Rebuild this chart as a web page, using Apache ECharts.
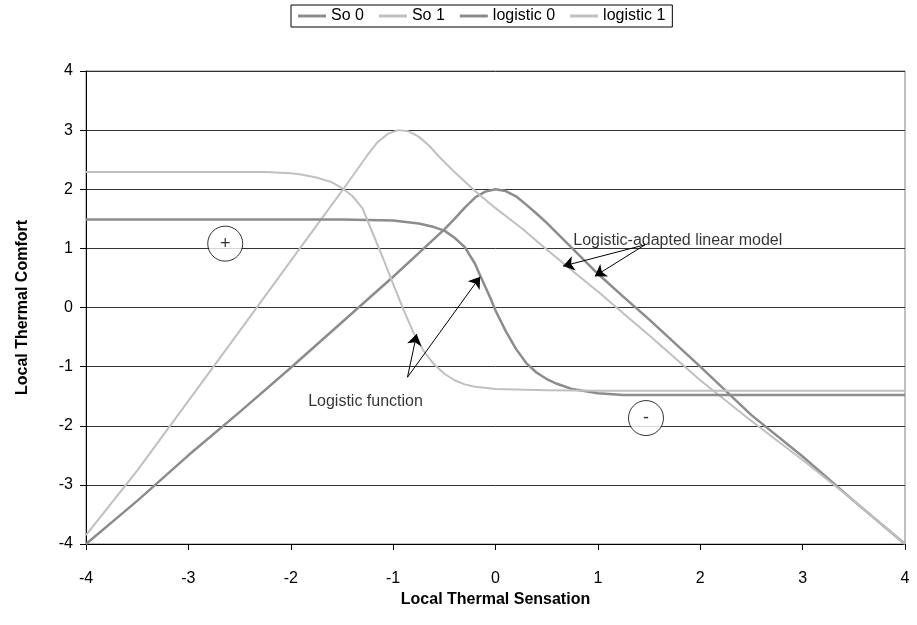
<!DOCTYPE html>
<html><head><meta charset="utf-8">
<script src="https://cdn.jsdelivr.net/npm/echarts@6/dist/echarts.min.js"></script>
<style>html,body{margin:0;padding:0;background:#fff}#c{width:917px;height:625px}</style>
</head><body><div id="c"></div>
<script>
// Data: [x, y] pairs
const so0 = [[-4,-4],[-3.5,-3.27],[-3,-2.5],[-2.5,-1.77],[-2,-1.02],[-1.5,-0.25],[-1,0.52],[-0.75,0.92],[-0.5,1.32],[-0.4,1.5],[-0.3,1.69],[-0.2,1.86],[-0.1,1.96],[0,2.0],[0.1,1.97],[0.2,1.88],[0.3,1.74],[0.4,1.59],[0.5,1.43],[0.75,1.0],[1,0.57],[1.25,0.18],[1.5,-0.2],[2,-1.0],[2.5,-1.82],[3,-2.52],[3.5,-3.27],[4,-4]];
const so1 = [[-4,-3.85],[-3.5,-2.76],[-3,-1.58],[-2.5,-0.4],[-2,0.79],[-1.75,1.38],[-1.5,1.97],[-1.25,2.58],[-1.15,2.8],[-1.05,2.94],[-0.95,3.0],[-0.85,2.98],[-0.75,2.89],[-0.65,2.74],[-0.55,2.55],[-0.4,2.29],[-0.2,1.97],[0,1.68],[0.25,1.35],[0.5,0.98],[0.75,0.62],[1,0.27],[1.25,-0.1],[1.5,-0.47],[2,-1.23],[2.5,-1.92],[3,-2.58],[3.5,-3.27],[4,-4]];
const logistic0 = [[-4,1.49],[-3,1.49],[-2,1.49],[-1.5,1.49],[-1.25,1.48],[-1,1.47],[-0.75,1.42],[-0.6,1.36],[-0.5,1.3],[-0.4,1.18],[-0.3,1.02],[-0.2,0.74],[-0.15,0.54],[-0.1,0.35],[-0.05,0.16],[0,-0.05],[0.1,-0.4],[0.2,-0.7],[0.3,-0.94],[0.4,-1.1],[0.5,-1.21],[0.6,-1.29],[0.75,-1.38],[1,-1.45],[1.25,-1.48],[2,-1.48],[3,-1.48],[4,-1.48]];
const logistic1 = [[-4,2.29],[-3,2.29],[-2.25,2.29],[-2,2.27],[-1.9,2.25],[-1.75,2.2],[-1.6,2.12],[-1.5,2.02],[-1.4,1.89],[-1.3,1.68],[-1.2,1.26],[-1.1,0.84],[-1,0.4],[-0.9,-0.03],[-0.8,-0.43],[-0.7,-0.74],[-0.6,-0.96],[-0.5,-1.12],[-0.4,-1.23],[-0.3,-1.3],[-0.2,-1.34],[0,-1.38],[0.5,-1.4],[1,-1.41],[2,-1.41],[3,-1.41],[4,-1.41]];
const seriesNames = ['So 0','So 1','logistic 0','logistic 1'];
// annotations (data coordinates)
const circleMarks = [{value:[-2.64,1.08], text:'+'},{value:[1.47,-1.87], text:'-'}];
const noteTexts = [{value:[0.76,1.14], text:'Logistic-adapted linear model'},{value:[-1.83,-1.59], text:'Logistic function'}];
const arrows = [[[1.46,1.06],[0.66,0.70]],[[1.46,1.06],[0.97,0.53]],[[-0.86,-1.18],[-0.77,-0.45]],[[-0.86,-1.18],[-0.15,0.52]]];

const FONT = '"Liberation Sans", Arial, sans-serif';
const DARK = '#8c8c8c', LIGHT = '#c0c0c0';
const chart = echarts.init(document.getElementById('c'), null, {renderer:'canvas'});
function lineSeries(name, data, color, width){
  return {name, type:'line', data, symbol:'none', showSymbol:false, smooth:false,
    lineStyle:{color, width, join:'round'}, itemStyle:{color}, z:3};
}
chart.setOption({
  animation:false,
  backgroundColor:'#fff',
  textStyle:{fontFamily:FONT, color:'#000'},
  legend:{data:seriesNames.map(n=>({name:n, icon:'rect'})), left:291, top:5, orient:'horizontal',
    borderColor:'#000', borderWidth:1, padding:[3,7], itemGap:15, itemWidth:28, itemHeight:3,
    textStyle:{fontFamily:FONT, fontSize:16, color:'#000', lineHeight:16}},
  grid:{left:86, right:12, top:71, bottom:81, show:true, borderColor:'#808080', borderWidth:1},
  xAxis:{type:'value', min:-4, max:4, interval:1,
    name:'Local Thermal Sensation', nameLocation:'middle', nameGap:45,
    nameTextStyle:{fontFamily:FONT, fontSize:16, fontWeight:'bold', color:'#000'},
    axisLine:{show:true, onZero:false, lineStyle:{color:'#000', width:1}},
    axisTick:{show:true, inside:false, length:6, lineStyle:{color:'#000'}},
    axisLabel:{fontFamily:FONT, fontSize:16, color:'#000', margin:27},
    splitLine:{show:false}},
  yAxis:{type:'value', min:-4, max:4, interval:1,
    name:'Local Thermal Comfort', nameLocation:'middle', nameGap:55, nameRotate:90,
    nameTextStyle:{fontFamily:FONT, fontSize:16, fontWeight:'bold', color:'#000'},
    axisLine:{show:true, onZero:false, lineStyle:{color:'#000', width:1}},
    axisTick:{show:true, inside:false, length:6, lineStyle:{color:'#000'}},
    axisLabel:{fontFamily:FONT, fontSize:16, color:'#000', margin:13},
    splitLine:{show:true, lineStyle:{color:'#333', width:1}}},
  series:[
    lineSeries('So 0', so0, DARK, 2.5),
    lineSeries('So 1', so1, LIGHT, 2),
    lineSeries('logistic 0', logistic0, DARK, 2.5),
    lineSeries('logistic 1', logistic1, LIGHT, 2),
    {name:'arrows', type:'lines', coordinateSystem:'cartesian2d', z:5,
      symbol:['none','arrow'], symbolSize:[0,11],
      lineStyle:{color:'#000', width:1, opacity:1},
      data:arrows.map(c=>({coords:c}))},
    {name:'circles', type:'scatter', z:6, symbol:'circle', symbolSize:35,
      itemStyle:{color:'#fff', borderColor:'#000', borderWidth:1},
      label:{show:true, position:'inside', formatter:p=>p.data.text, fontFamily:FONT, fontSize:18, color:'#000'},
      data:circleMarks},
    {name:'notes', type:'scatter', z:6, symbolSize:0, silent:true,
      label:{show:true, position:'right', distance:0, formatter:p=>p.data.text, fontFamily:FONT, fontSize:16, color:'#000'},
      data:noteTexts}
  ]
});
</script></body></html>
